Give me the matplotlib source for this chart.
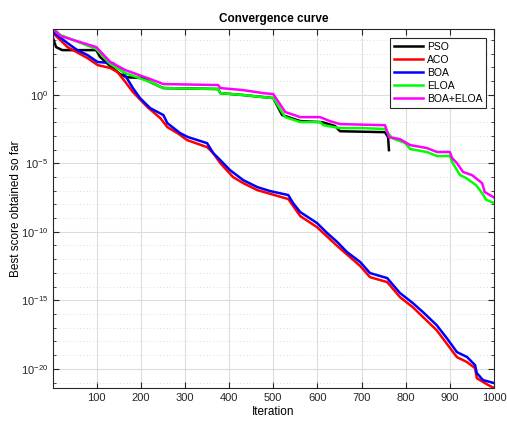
import matplotlib
matplotlib.use('Agg')
import matplotlib.pyplot as plt
from matplotlib.ticker import FixedLocator, NullFormatter

plt.rcParams['font.family'] = ['Liberation Sans', 'DejaVu Sans']
plt.rcParams['mathtext.default'] = 'regular'

# curves: iteration and log10(best score)
pso_it = [1, 8, 22, 99, 108, 131, 153, 167, 205, 221, 251, 375, 380, 432, 477, 500,
          520, 561, 611, 640, 651, 753, 760, 762]
pso_log = [4.14, 3.48, 3.26, 3.26, 2.75, 2.09, 1.51, 1.28, 1.22, 0.93, 0.49, 0.42, 0.12,
           -0.02, -0.17, -0.24, -1.48, -1.92, -2.00, -2.28, -2.66, -2.73, -3.09, -4.04]

aco_it = [1, 34, 79, 102, 131, 147, 165, 182, 215, 244, 260, 283, 305, 350, 364, 380,
          409, 432, 464, 534, 561, 599, 645, 697, 719, 758, 787, 816, 870, 916, 939,
          957, 961, 979, 1000]
aco_log = [4.50, 3.48, 2.68, 2.17, 1.95, 1.66, 0.93, 0.20, -0.90, -1.70, -2.36, -2.80,
           -3.31, -3.82, -4.26, -4.99, -6.01, -6.45, -6.96, -7.61, -8.85, -9.66, -11.04,
           -12.50, -13.31, -13.67, -14.77, -15.50, -17.18, -19.15, -19.51, -19.95, -20.68,
           -21.04, -21.41]

boa_it = [1, 34, 56, 79, 102, 137, 160, 182, 198, 221, 251, 260, 289, 307, 350, 364,
          380, 402, 432, 464, 493, 534, 545, 561, 599, 622, 645, 667, 697, 719, 758,
          787, 816, 839, 870, 893, 916, 939, 957, 961, 975, 1000]
boa_log = [4.58, 3.77, 3.26, 2.90, 2.39, 2.31, 1.66, 0.49, -0.24, -0.97, -1.48, -2.07,
           -2.80, -3.09, -3.53, -4.26, -4.77, -5.50, -6.23, -6.74, -7.03, -7.32, -7.91,
           -8.56, -9.36, -10.09, -10.75, -11.48, -12.21, -13.01, -13.38, -14.47, -15.20,
           -15.86, -16.81, -17.76, -18.78, -19.14, -19.73, -20.31, -20.82, -21.04]

eloa_it = [1, 18, 99, 131, 165, 221, 251, 375, 380, 432, 477, 500, 527, 561, 606, 613,
           651, 701, 753, 769, 799, 810, 848, 871, 900, 905, 923, 937, 959, 973, 982, 1000]
eloa_log = [4.87, 4.36, 3.34, 2.24, 1.58, 0.93, 0.49, 0.42, 0.12, -0.02, -0.17, -0.24,
            -1.63, -1.99, -1.99, -2.22, -2.43, -2.43, -2.50, -3.16, -3.53, -3.96, -4.18,
            -4.47, -4.47, -4.91, -5.86, -6.08, -6.59, -7.17, -7.66, -7.90]

hyb_it = [1, 18, 99, 131, 165, 221, 251, 375, 380, 432, 477, 500, 527, 561, 606, 629,
          651, 753, 762, 787, 810, 848, 871, 900, 905, 916, 930, 950, 973, 979, 1000]
hyb_log = [4.80, 4.29, 3.48, 2.39, 1.80, 1.15, 0.78, 0.71, 0.49, 0.34, 0.12, 0.05, -1.26,
           -1.63, -1.63, -1.93, -2.14, -2.22, -3.09, -3.24, -3.67, -3.89, -4.18, -4.18,
           -4.62, -4.99, -5.64, -5.86, -6.45, -7.10, -7.50]

names = ['PSO', 'ACO', 'BOA', 'ELOA', 'BOA+ELOA']
colors = ['#000000', '#FF0000', '#0000FF', '#00FF00', '#FF00FF']
series = [(pso_it, pso_log), (aco_it, aco_log), (boa_it, boa_log),
          (eloa_it, eloa_log), (hyb_it, hyb_log)]

fig = plt.figure(figsize=(5.07, 4.21), dpi=100)
ax = fig.add_axes([0.1045, 0.0784, 0.8699, 0.8527])

for (it, lg), name, c in zip(series, names, colors):
    ax.plot(it, [10 ** v for v in lg], color=c, linewidth=1.8, label=name)

ax.set_yscale('log')
ax.set_xlim(1, 1000)
ax.set_ylim(10 ** -21.4, 10 ** 4.8)

xt = [100, 200, 300, 400, 500, 600, 700, 800, 900, 1000]
ax.set_xticks(xt)
ax.set_xticklabels([str(v) for v in xt])
ymaj = [-20, -15, -10, -5, 0]
ax.yaxis.set_major_locator(FixedLocator([10.0 ** e for e in ymaj]))
ax.set_yticklabels([r'$10^{%d}$' % e for e in ymaj])
ax.yaxis.set_minor_locator(FixedLocator([10.0 ** e for e in range(-21, 5)]))
ax.yaxis.set_minor_formatter(NullFormatter())

ax.tick_params(which='both', direction='in', top=True, right=True, labelsize=8,
               color='#262626', labelcolor='#262626')
ax.tick_params(which='major', length=4)
ax.tick_params(which='minor', length=2.5)
ax.tick_params(axis='x', which='minor', bottom=False, top=False)
for s in ax.spines.values():
    s.set_color('#262626')
    s.set_linewidth(0.8)

ax.grid(which='major', color='#dcdcdc', linewidth=0.8, linestyle='-')
ax.grid(which='minor', axis='y', color='#d0d0d0', linewidth=0.6, linestyle=(0, (1, 3)))
ax.set_axisbelow(True)

ax.set_title('Convergence curve', fontsize=8.5, fontweight='bold', pad=5)
ax.set_xlabel('Iteration', fontsize=8.5, labelpad=2)
ax.set_ylabel('Best score obtained so far', fontsize=8.5, labelpad=-1)

leg = ax.legend(loc='upper right', bbox_to_anchor=(0.982, 0.975), fontsize=7.5,
                fancybox=False, framealpha=1, edgecolor='#262626', handlelength=2.8,
                borderaxespad=0, labelspacing=0.3, handletextpad=0.4, borderpad=0.35)
leg.get_frame().set_linewidth(0.8)

fig.savefig('out.png', dpi=100)
